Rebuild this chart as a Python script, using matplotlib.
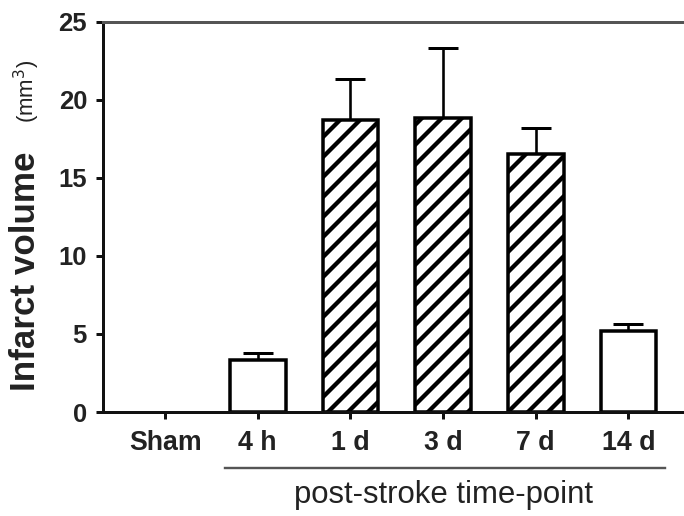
import matplotlib
matplotlib.use("Agg")
import matplotlib.pyplot as plt
import matplotlib.transforms as mtransforms

categories = ["Sham", "4 h", "1 d", "3 d", "7 d", "14 d"]
means = [0.0, 3.3, 18.7, 18.8, 16.5, 5.2]
errors = [0.0, 0.45, 2.65, 4.5, 1.7, 0.43]
hatched = [False, False, True, True, True, False]
yticks = [0, 5, 10, 15, 20, 25]

DPI = 60


def pt(px):
    return px * 72.0 / DPI


plt.rcParams["font.family"] = ["Liberation Sans", "DejaVu Sans"]
plt.rcParams["hatch.linewidth"] = pt(4.3)
plt.rcParams["hatch.color"] = "black"

fig = plt.figure(figsize=(684 / DPI, 516 / DPI), dpi=DPI)
ax = fig.add_axes([103 / 684, 1 - 412 / 516, 1 - 103 / 684, (412 - 21.5) / 516])

x = list(range(len(categories)))
for xi, m, e, h in zip(x, means, errors, hatched):
    if m <= 0:
        continue
    ax.bar(xi, m, width=0.6, color="white", edgecolor="black", linewidth=pt(3.5),
           hatch="/" if h else None, zorder=2)
    ax.errorbar(xi, m, yerr=[[0], [e]], fmt="none", ecolor="black",
                elinewidth=pt(2.6), capsize=pt(15), capthick=pt(3), zorder=1)

ax.set_xlim(-0.67, 5.6)
ax.set_ylim(0, 25)
ax.set_yticks(yticks)
ax.set_xticks(x)
ax.set_xticklabels(categories, fontsize=pt(26.7), fontweight="bold")
ax.set_yticklabels([str(t) for t in yticks], fontsize=pt(25.6), fontweight="bold")

for s in ["left", "bottom"]:
    ax.spines[s].set_linewidth(pt(3))
    ax.spines[s].set_color("#111111")
ax.spines["top"].set_linewidth(pt(3))
ax.spines["top"].set_color("#555555")
ax.spines["right"].set_visible(False)

ax.tick_params(axis="x", length=pt(7), width=pt(3), pad=pt(11), colors="#111111")
ax.tick_params(axis="y", length=pt(7), width=pt(3), pad=pt(9), colors="#111111")
for lab in ax.get_xticklabels() + ax.get_yticklabels():
    lab.set_color("#222222")

# y-axis label: bold part + normal unit part
ax.text(-0.134, 0.361, "Infarct volume", transform=ax.transAxes, rotation=90,
        fontsize=pt(35), fontweight="bold", ha="center", va="center", color="#222222")
ax.text(-0.131, 0.82, "(mm$^3$)", transform=ax.transAxes, rotation=90,
        fontsize=pt(22.2), ha="center", va="center", color="#222222")

# group underline and label
trans = mtransforms.blended_transform_factory(ax.transData, ax.transAxes)
ax.plot([0.65, 5.4], [-0.143, -0.143], color="#555555", linewidth=pt(2.4),
        transform=trans, clip_on=False)
ax.text(3.0, -0.213, "post-stroke time-point", transform=trans, fontsize=pt(31.1),
        ha="center", va="center", color="#222222")

fig.savefig("out.png", dpi=DPI)
